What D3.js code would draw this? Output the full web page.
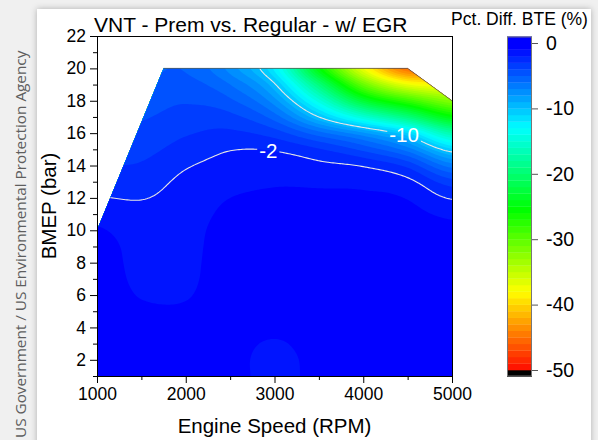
<!DOCTYPE html>
<html>
<head>
<meta charset="utf-8">
<title>VNT - Prem vs. Regular - w/ EGR</title>
<script src="https://cdn.jsdelivr.net/npm/d3@7"></script>
<style>
body { margin: 0; background: #f0f0f0; }
svg { display: block; }
text { font-family: "Liberation Sans", Arial, sans-serif; }
</style>
</head>
<body>
<script>
// grid: columns = engine speed, rows = BMEP
var rpm = [1000, 1500, 2000, 2500, 3000, 3500, 4000, 4500, 5000];
var bmep = [1, 2, 3, 4, 5, 6, 7, 8, 9, 10, 11, 12, 13, 14, 15, 16, 17, 18, 19, 20];

// Pct. Diff. BTE (%)
var bteDiff = [
  [-0.6, -0.6, -0.6, -0.6, -1.4, -0.65, -0.6, -0.6, -0.6],
  [-0.6, -0.6, -0.6, -0.65, -1.35, -0.65, -0.6, -0.6, -0.6],
  [-0.6, -0.6, -0.6, -0.65, -1.1, -0.6, -0.6, -0.6, -0.6],
  [-0.6, -0.65, -0.7, -0.6, -0.75, -0.6, -0.6, -0.6, -0.6],
  [-0.55, -0.85, -0.9, -0.6, -0.6, -0.6, -0.6, -0.6, -0.6],
  [-0.5, -1.05, -1.05, -0.6, -0.6, -0.6, -0.6, -0.6, -0.6],
  [-0.5, -1.2, -1.15, -0.6, -0.6, -0.6, -0.6, -0.6, -0.6],
  [-0.5, -1.3, -1.2, -0.6, -0.6, -0.6, -0.6, -0.6, -0.6],
  [-0.6, -1.35, -1.25, -0.6, -0.6, -0.6, -0.6, -0.6, -0.6],
  [-0.9, -1.45, -1.3, -0.65, -0.6, -0.6, -0.6, -0.6, -0.75],
  [-1.35, -1.65, -1.4, -0.8, -0.7, -0.7, -0.7, -0.75, -1.2],
  [-1.95, -2.05, -1.55, -1.0, -0.85, -0.85, -0.85, -1.05, -2.1],
  [-2.5, -2.45, -1.75, -1.3, -1.1, -1.15, -1.25, -1.7, -3.6],
  [-3.0, -2.9, -2.1, -1.65, -1.5, -1.75, -2.1, -3.3, -6.5],
  [-3.4, -3.3, -2.6, -2.05, -2.1, -2.9, -4.3, -6.5, -10.8],
  [-3.8, -3.7, -3.1, -2.8, -3.5, -5.6, -7.8, -11, -17],
  [-4.2, -4.1, -3.6, -3.7, -5.5, -10, -15, -19.5, -25],
  [-4.6, -4.5, -4.1, -4.8, -7.6, -14.5, -23, -28, -32],
  [-5.0, -4.9, -4.6, -6.0, -9.8, -19.5, -30.5, -37, -38],
  [-5.4, -5.3, -5.1, -7.4, -12.3, -25, -37, -45, -43]
];

// outline of the measured region
var mapEdge = [[1000, 1], [1000, 10], [1750, 20], [4500, 20], [5000, 18], [5000, 1]];

var lineLevels = [-2, -10];
var lineLabels = [{level: -2, rpm: 2930}, {level: -10, rpm: 4460}];

var xTicks = [1000, 2000, 3000, 4000, 5000];
var xMinor = [1500, 2500, 3500, 4500];
var yTicks = [2, 4, 6, 8, 10, 12, 14, 16, 18, 20, 22];
var yMinor = [1, 3, 5, 7, 9, 11, 13, 15, 17, 19, 21];
var barTicks = [0, -10, -20, -30, -40, -50];

var width = 598, height = 440;
var plot = {left: 97, right: 452, top: 36, bottom: 376};

var x = d3.scaleLinear().domain([1000, 5000]).range([plot.left, plot.right]);
var y = d3.scaleLinear().domain([1, 22]).range([plot.bottom, plot.top]);

var color = d3.scaleLinear()
  .domain([-50, -37.5, -25, -12.5, 0])
  .range(["#ff0000", "#ffff00", "#00ff00", "#00ffff", "#0000ff"])
  .clamp(true);

// one filled band per 1 %
var levels = d3.range(-51, 1);

function cubic(p0, p1, p2, p3, t){
  return p1 + 0.5 * t * (p2 - p0 + t * (2 * p0 - 5 * p1 + 4 * p2 - p3 + t * (3 * (p1 - p2) + p3 - p0)));
}

function at(j, i){
  j = Math.max(0, Math.min(bmep.length - 1, j));
  i = Math.max(0, Math.min(rpm.length - 1, i));
  return bteDiff[j][i];
}

// smooth surface through the grid (bicubic)
function sample(r, b){
  var gx = (r - rpm[0]) / (rpm[1] - rpm[0]);
  var gy = (b - bmep[0]) / (bmep[1] - bmep[0]);
  var ix = Math.min(Math.floor(gx), rpm.length - 2);
  var iy = Math.min(Math.floor(gy), bmep.length - 2);
  var tx = gx - ix, ty = gy - iy;
  var col = [];
  for(var k = -1; k <= 2; k++){
    col.push(cubic(at(iy + k, ix - 1), at(iy + k, ix), at(iy + k, ix + 1), at(iy + k, ix + 2), tx));
  }
  return cubic(col[0], col[1], col[2], col[3], ty);
}

var stepX = 20, stepY = 0.1;
var nx = Math.round((rpm[rpm.length - 1] - rpm[0]) / stepX) + 1;
var ny = Math.round((bmep[bmep.length - 1] - bmep[0]) / stepY) + 1;
var values = new Array(nx * ny);
for(var j = 0; j < ny; j++){
  for(var i = 0; i < nx; i++){
    values[j * nx + i] = sample(rpm[0] + i * stepX, bmep[0] + j * stepY);
  }
}

function gridToRpm(g){ return rpm[0] + (g - 0.5) * stepX; }
function gridToBar(g){ return bmep[0] + (g - 0.5) * stepY; }

var path = d3.geoPath(d3.geoTransform({
  point: function(gx, gy){ this.stream.point(x(gridToRpm(gx)), y(gridToBar(gy))); }
}));

var svg = d3.select("body").append("svg")
  .attr("width", width)
  .attr("height", height);

var defs = svg.append("defs");
var shadow = defs.append("filter").attr("id", "shadow")
  .attr("x", "-10%").attr("y", "-10%").attr("width", "120%").attr("height", "120%");
shadow.append("feDropShadow")
  .attr("dx", 0).attr("dy", 0)
  .attr("stdDeviation", 3)
  .attr("flood-color", "#000")
  .attr("flood-opacity", 0.28);

var edgeLine = d3.line().x(function(d){ return x(d[0]); }).y(function(d){ return y(d[1]); });

defs.append("clipPath").attr("id", "map")
  .append("path").attr("d", edgeLine(mapEdge) + "Z");

// page background + card
svg.append("rect").attr("width", width).attr("height", height).attr("fill", "#f0f0f0");
svg.append("rect")
  .attr("x", 37).attr("y", 9)
  .attr("width", 554).attr("height", 450)
  .attr("fill", "#fff")
  .attr("filter", "url(#shadow)");

svg.append("text")
  .attr("transform", "translate(26,438) rotate(-90)")
  .style("font-family", "'Open Sans', sans-serif")
  .attr("font-size", "15.3px")
  .attr("fill", "#5e5e5e")
  .text("US Government / US Environmental Protection Agency");

// filled contours
var bands = d3.contours().size([nx, ny]).thresholds(levels)(values);

svg.append("g")
  .attr("clip-path", "url(#map)")
  .selectAll("path")
  .data(bands)
  .enter().append("path")
  .attr("d", path)
  .attr("fill", function(d){ return color(d.value + 1); });

// contour lines with gaps for labels
var lines = d3.contours().size([nx, ny]).thresholds(lineLevels)(values);

function findBar(contour, r){
  var best = null;
  contour.coordinates.forEach(function(poly){
    poly.forEach(function(ring){
      for(var k = 1; k < ring.length; k++){
        var r0 = gridToRpm(ring[k - 1][0]), r1 = gridToRpm(ring[k][0]);
        var b0 = gridToBar(ring[k - 1][1]), b1 = gridToBar(ring[k][1]);
        if((r0 - r) * (r1 - r) <= 0 && r0 != r1){
          var b = b0 + (b1 - b0) * (r - r0) / (r1 - r0);
          if(b > bmep[0] + 0.1 && b < 20 && (best === null || b > best)) best = b;
        }
      }
    });
  });
  return best;
}

var labelG = svg.append("g");
var mask = defs.append("mask").attr("id", "gaps")
  .attr("maskUnits", "userSpaceOnUse")
  .attr("x", 0).attr("y", 0).attr("width", width).attr("height", height);
mask.append("rect").attr("width", width).attr("height", height).attr("fill", "#fff");

lineLabels.forEach(function(l){
  var c = lines.filter(function(d){ return d.value == l.level; })[0];
  var b = findBar(c, l.rpm);
  if(b === null) return;
  var t = labelG.append("text")
    .attr("x", x(l.rpm))
    .attr("y", y(b))
    .attr("dy", "0.36em")
    .attr("text-anchor", "middle")
    .attr("font-size", "20.5px")
    .attr("fill", "#fff")
    .text(String(l.level));
  var bb = t.node().getBBox();
  mask.append("rect")
    .attr("x", bb.x - 2).attr("y", bb.y)
    .attr("width", bb.width + 4).attr("height", bb.height)
    .attr("fill", "#000");
});

svg.insert("g", function(){ return labelG.node(); })
  .attr("clip-path", "url(#map)")
  .append("g")
  .attr("mask", "url(#gaps)")
  .selectAll("path")
  .data(lines)
  .enter().append("path")
  .attr("d", path)
  .attr("fill", "none")
  .attr("stroke", "#e6e6e6")
  .attr("stroke-width", 1.1);

// top and right-hand boundary of the measured region
svg.append("path")
  .attr("d", edgeLine(mapEdge.slice(2, 5)))
  .attr("fill", "none")
  .attr("stroke", "#555")
  .attr("stroke-width", 0.8);

// frame
svg.append("rect")
  .attr("x", plot.left + 0.5).attr("y", plot.top + 0.5)
  .attr("width", plot.right - plot.left).attr("height", plot.bottom - plot.top)
  .attr("fill", "none")
  .attr("stroke", "#000");

function styleAxis(g){
  g.select(".domain").remove();
  g.selectAll("text").attr("font-size", "17.5px").attr("fill", "#000")
    .style("font-family", "'Liberation Sans', Arial, sans-serif");
}

svg.append("g")
  .attr("transform", "translate(0," + plot.bottom + ")")
  .call(d3.axisBottom(x).tickValues(xTicks).tickSize(7).tickPadding(5).tickFormat(String))
  .call(styleAxis);
svg.append("g")
  .attr("transform", "translate(0," + plot.bottom + ")")
  .call(d3.axisBottom(x).tickValues(xMinor).tickSize(4).tickFormat(""))
  .call(styleAxis);
svg.append("g")
  .attr("transform", "translate(" + plot.left + ",0)")
  .call(d3.axisLeft(y).tickValues(yTicks).tickSize(7).tickPadding(4).tickFormat(String))
  .call(styleAxis);
svg.append("g")
  .attr("transform", "translate(" + plot.left + ",0)")
  .call(d3.axisLeft(y).tickValues(yMinor).tickSize(4).tickFormat(""))
  .call(styleAxis);

svg.append("text")
  .attr("x", 94).attr("y", 32)
  .attr("font-size", "21px")
  .text("VNT - Prem vs. Regular - w/ EGR");

svg.append("text")
  .attr("transform", "translate(56," + ((plot.top + plot.bottom) / 2) + ") rotate(-90)")
  .attr("text-anchor", "middle")
  .attr("font-size", "20.5px")
  .text("BMEP (bar)");

svg.append("text")
  .attr("x", (plot.left + plot.right) / 2).attr("y", 433)
  .attr("text-anchor", "middle")
  .attr("font-size", "20.5px")
  .text("Engine Speed (RPM)");

// colour bar
var cb = {left: 507, width: 25};
var cbY = d3.scaleLinear().domain([-50, 0]).range([370, 43]);

var cbG = svg.append("g");
cbG.selectAll("rect.band")
  .data(levels)
  .enter().append("rect")
  .attr("class", "band")
  .attr("x", cb.left)
  .attr("y", function(d){ return cbY(d + 1); })
  .attr("width", cb.width)
  .attr("height", function(d){ return cbY(d) - cbY(d + 1) + 0.3; })
  .attr("fill", function(d){ return d < -50 ? "#000" : color(d + 1); });

cbG.append("rect")
  .attr("x", cb.left + 0.5).attr("y", cbY(levels[levels.length - 1] + 1) + 0.5)
  .attr("width", cb.width - 1)
  .attr("height", cbY(levels[0]) - cbY(levels[levels.length - 1] + 1) - 1)
  .attr("fill", "none")
  .attr("stroke", "#777")
  .attr("stroke-width", 1);

svg.append("g")
  .attr("transform", "translate(" + (cb.left + cb.width) + ",0)")
  .call(d3.axisRight(cbY).tickValues(barTicks).tickSize(6).tickPadding(8).tickFormat(String))
  .call(function(g){
    g.select(".domain").remove();
    g.selectAll("line").attr("stroke", "#555");
    g.selectAll("text").attr("font-size", "19.5px").attr("fill", "#000")
      .style("font-family", "'Liberation Sans', Arial, sans-serif");
  });

svg.append("text")
  .attr("x", cb.left + cb.width / 2).attr("y", 25)
  .attr("text-anchor", "middle")
  .attr("font-size", "17.5px")
  .text("Pct. Diff. BTE (%)");
</script>
</body>
</html>
